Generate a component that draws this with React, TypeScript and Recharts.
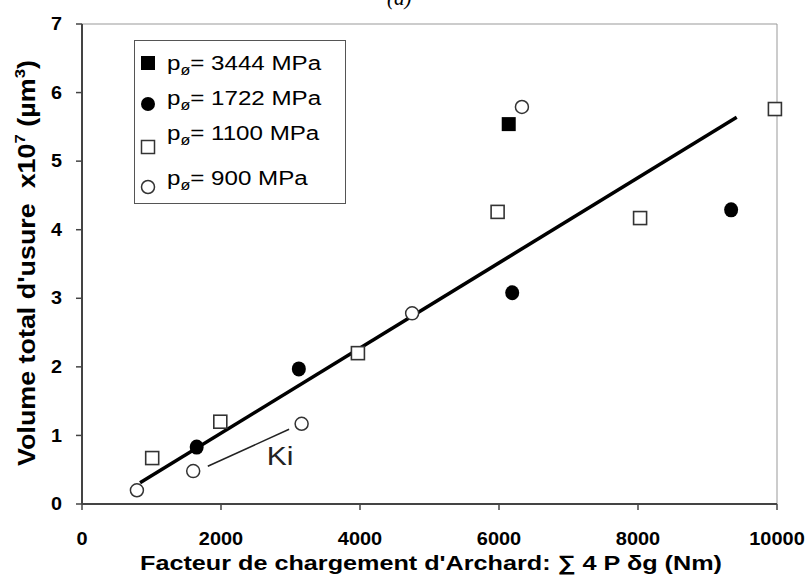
import React from 'react';
import {
  ScatterChart,
  Scatter,
  XAxis,
  YAxis,
  ReferenceLine,
  ReferenceDot,
} from 'recharts';

// valeurs (x en Nm, y en x10^7 µm³)
const pts3444 = [{ x: 6140, y: 5.54 }];
const pts1722 = [
  { x: 1650, y: 0.83 },
  { x: 3120, y: 1.97 },
  { x: 6190, y: 3.08 },
  { x: 9340, y: 4.29 },
];
const pts1100 = [
  { x: 1010, y: 0.67 },
  { x: 1990, y: 1.2 },
  { x: 3970, y: 2.2 },
  { x: 5980, y: 4.26 },
  { x: 8030, y: 4.17 },
  { x: 9970, y: 5.76 },
];
const pts900 = [
  { x: 790, y: 0.2 },
  { x: 1600, y: 0.48 },
  { x: 3160, y: 1.17 },
  { x: 4750, y: 2.78 },
  { x: 6330, y: 5.79 },
];
const fitLine = [
  { x: 835, y: 0.31 },
  { x: 9420, y: 5.64 },
];
const kiLine = [
  { x: 1810, y: 0.55 },
  { x: 2980, y: 1.09 },
];
const kiLabel = { x: 2850, y: 0.69, text: 'Ki' };

const xTicks = [0, 2000, 4000, 6000, 8000, 10000];
const yTicks = [0, 1, 2, 3, 4, 5, 6, 7];
const legendLabels = ['3444 MPa', '1722 MPa', '1100 MPa', '900 MPa'];

const FONT = '"Liberation Sans", Arial, sans-serif';
const OPEN = '#333';
const STRETCH = 1.2; // le texte de la figure d'origine est étiré en largeur

const FilledSquare = (p: any) => <rect x={p.cx - 7} y={p.cy - 7} width={14} height={14} fill="#000" />;
const FilledCircle = (p: any) => <ellipse cx={p.cx} cy={p.cy} rx={7} ry={7.5} fill="#000" />;
const OpenSquare = (p: any) => (
  <rect x={p.cx - 6.5} y={p.cy - 6.5} width={13} height={13} fill="#fff" stroke={OPEN} strokeWidth={1.6} />
);
const OpenCircle = (p: any) => <circle cx={p.cx} cy={p.cy} r={6.5} fill="#fff" stroke={OPEN} strokeWidth={1.5} />;
const NoShape = () => <g />;

const XTick = ({ x, y, payload }: any) => (
  <text
    transform={`translate(${x},${y + 26}) scale(1.05,1)`}
    textAnchor="middle"
    dominantBaseline="central"
    fontFamily={FONT}
    fontWeight="bold"
    fontSize={19}
    fill="#000"
  >
    {payload.value}
  </text>
);

const YTick = ({ x, y, payload }: any) => (
  <text
    transform={`translate(${x},${y}) scale(1.1,1)`}
    textAnchor="end"
    dominantBaseline="central"
    fontFamily={FONT}
    fontWeight="bold"
    fontSize={18}
    fill="#000"
  >
    {payload.value}
  </text>
);

const YLabel = () => (
  <text
    transform="translate(35,263) rotate(-90) scale(1.12,1)"
    textAnchor="middle"
    fontFamily={FONT}
    fontWeight="bold"
    fontSize={24}
    fill="#000"
  >
    {'Volume total d\'usure \u00a0x10'}
    <tspan dy={-10} fontSize={15}>7</tspan>
    <tspan dy={10}>{'\u00a0(µm'}</tspan>
    <tspan dy={-10} fontSize={15}>3</tspan>
    <tspan dy={10}>)</tspan>
  </text>
);

const XLabel = () => (
  <text
    transform={`translate(431,570) scale(${STRETCH},1)`}
    textAnchor="middle"
    fontFamily={FONT}
    fontWeight="bold"
    fontSize={21}
    fill="#000"
  >
    Facteur de chargement d'Archard: ∑ 4 P δg (Nm)
  </text>
);

const KiText = (p: any) => (
  <text
    transform={`translate(${p.cx},${p.cy}) scale(${STRETCH},1)`}
    textAnchor="middle"
    dominantBaseline="central"
    fontFamily={FONT}
    fontSize={25}
    fill="#222"
  >
    {kiLabel.text}
  </text>
);

const legendMarkers = [
  (cx: number, cy: number) => <rect x={cx - 7} y={cy - 7} width={14} height={14} fill="#000" />,
  (cx: number, cy: number) => <circle cx={cx} cy={cy} r={7} fill="#000" />,
  (cx: number, cy: number) => (
    <rect x={cx - 6.5} y={cy - 6.5} width={13} height={13} fill="#fff" stroke={OPEN} strokeWidth={1.5} />
  ),
  (cx: number, cy: number) => <circle cx={cx} cy={cy} r={6.5} fill="#fff" stroke={OPEN} strokeWidth={1.5} />,
];
const legendTextY = [70, 105, 140, 185];
const legendMarkY = [63, 104, 147, 187];

export default function App() {
  return (
    <div style={{ position: 'absolute', left: 0, top: 0, width: 806, height: 579, background: '#fff' }}>
      <ScatterChart width={806} height={579} margin={{ top: 24, right: 29, bottom: 0, left: 0 }}>
        <XAxis
          type="number"
          dataKey="x"
          domain={[0, 10000]}
          ticks={xTicks}
          interval={0}
          height={75}
          tick={<XTick />}
          tickSize={6}
          tickMargin={2}
          axisLine={{ stroke: '#444', strokeWidth: 2 }}
          tickLine={{ stroke: '#444', strokeWidth: 1.5 }}
          label={<XLabel />}
        />
        <YAxis
          type="number"
          dataKey="y"
          domain={[0, 7]}
          ticks={yTicks}
          interval={0}
          width={82}
          tick={<YTick />}
          tickSize={6}
          tickMargin={14}
          axisLine={{ stroke: '#444', strokeWidth: 2 }}
          tickLine={{ stroke: '#444', strokeWidth: 1.5 }}
          label={<YLabel />}
        />
        <ReferenceLine y={7} stroke="#999" strokeWidth={1} />
        <ReferenceLine x={10000} stroke="#999" strokeWidth={1} />
        <Scatter data={fitLine} line={{ stroke: '#000', strokeWidth: 3.5 }} shape={<NoShape />} isAnimationActive={false} />
        <Scatter data={kiLine} line={{ stroke: '#222', strokeWidth: 1.5 }} shape={<NoShape />} isAnimationActive={false} />
        <ReferenceDot x={kiLabel.x} y={kiLabel.y} shape={<KiText />} />
        <Scatter name="1100" data={pts1100} shape={<OpenSquare />} isAnimationActive={false} />
        <Scatter name="900" data={pts900} shape={<OpenCircle />} isAnimationActive={false} />
        <Scatter name="1722" data={pts1722} shape={<FilledCircle />} isAnimationActive={false} />
        <Scatter name="3444" data={pts3444} shape={<FilledSquare />} isAnimationActive={false} />
      </ScatterChart>
      <svg width={806} height={579} style={{ position: 'absolute', left: 0, top: 0, pointerEvents: 'none' }}>
        <text x={387} y={5} fontFamily='"Liberation Serif", serif' fontStyle="italic" fontSize={21} fill="#000">
          (a)
        </text>
        <rect x={134.5} y={40.5} width={211} height={163} fill="#fff" stroke="#555" strokeWidth={1} />
        {legendLabels.map((lab, i) => (
          <g key={lab}>
            {legendMarkers[i](148, legendMarkY[i])}
            <text
              transform={`translate(167,${legendTextY[i]}) scale(1.15,1)`}
              fontFamily={FONT}
              fontSize={21}
              fill="#000"
            >
              p<tspan dy={5} fontSize={14}>ø</tspan>
              <tspan dy={-5}>= {lab}</tspan>
            </text>
          </g>
        ))}
      </svg>
    </div>
  );
}
